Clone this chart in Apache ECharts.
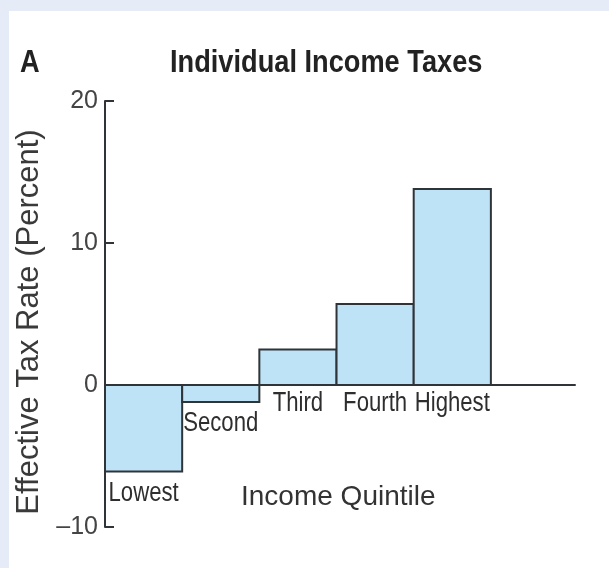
<!DOCTYPE html>
<html>
<head>
<meta charset="utf-8">
<script src="https://cdn.jsdelivr.net/npm/echarts@6/dist/echarts.min.js"></script>
<style>
  html, body { margin: 0; padding: 0; }
  #frame { position: relative; width: 609px; height: 568px; background: #e5ebf7; overflow: hidden; }
  #panel { position: absolute; left: 9px; top: 11px; right: 0; bottom: 0; background: #ffffff; }
  #chart { position: absolute; left: 0; top: 0; width: 609px; height: 568px; }
</style>
</head>
<body>
<div id="frame">
  <div id="panel"></div>
  <div id="chart"></div>
</div>
<script>
// Effective individual income tax rate by income quintile (percent)
const quintiles = ['Lowest', 'Second', 'Third', 'Fourth', 'Highest'];
const taxRates = [-6.1, -1.2, 2.5, 5.7, 13.8];
const yTicks = [-10, 0, 10, 20];

const barFill = '#bee3f7';
const barEdge = '#2f3438';
const sansFont = '"Liberation Sans", sans-serif';
// condensed look: regular face squeezed horizontally
const narrow = 0.82;
const titleNarrow = 0.85;

const chart = echarts.init(document.getElementById('chart'), null, { renderer: 'canvas' });

// Each quintile occupies one unit on the x scale; bars touch each other.
const barData = quintiles.map((name, i) => [i, taxRates[i], name]);

chart.setOption({
  backgroundColor: 'transparent',
  animation: false,
  grid: { left: 105, top: 101, width: 470, height: 426 },
  xAxis: {
    type: 'value',
    min: 0,
    max: 6.09,
    axisLine: { show: true, onZero: true, lineStyle: { color: barEdge, width: 2 } },
    axisTick: { show: false },
    axisLabel: { show: false },
    splitLine: { show: false }
  },
  yAxis: {
    type: 'value',
    min: yTicks[0],
    max: yTicks[yTicks.length - 1],
    interval: 10,
    name: 'Effective Tax Rate (Percent)',
    nameLocation: 'middle',
    nameRotate: 90,
    nameGap: 60,
    nameTextStyle: { fontFamily: sansFont, fontSize: 31, color: '#3a3a3a', padding: [0, 16, 0, 0] },
    axisLine: { show: true, lineStyle: { color: barEdge, width: 2 } },
    axisTick: { show: true, inside: true, length: 9, lineStyle: { color: barEdge, width: 2 } },
    axisLabel: {
      margin: 7,
      fontFamily: sansFont,
      fontSize: 25,
      color: '#444',
      formatter: v => (v < 0 ? '\u2013' + Math.abs(v) : String(v))
    },
    splitLine: { show: false }
  },
  graphic: [
    {
      type: 'text',
      x: 20, y: 63, scaleX: titleNarrow,
      style: { text: 'A', fontFamily: sansFont, fontWeight: 'bold', fontSize: 32, fill: '#222', verticalAlign: 'middle' }
    },
    {
      type: 'text',
      x: 170, y: 63, scaleX: titleNarrow,
      style: { text: 'Individual Income Taxes', fontFamily: sansFont, fontWeight: 'bold', fontSize: 32, fill: '#222', verticalAlign: 'middle' }
    },
    {
      type: 'text',
      x: 241, y: 497,
      style: { text: 'Income Quintile', fontFamily: sansFont, fontSize: 28, fill: '#333', verticalAlign: 'middle' }
    }
  ],
  series: [
    {
      type: 'custom',
      data: barData,
      encode: { x: 0, y: 1 },
      renderItem: function (params, api) {
        const i = api.value(0);
        const v = api.value(1);
        const p0 = api.coord([i, 0]);
        const p1 = api.coord([i + 1, v]);
        const x = p0[0], w = p1[0] - p0[0];
        const yTop = Math.min(p0[1], p1[1]);
        const h = Math.abs(p1[1] - p0[1]);
        // label sits below the bar end for negative rates, below the zero line otherwise
        const labelY = v < 0 ? p1[1] + 22 : p0[1] + 19;
        return {
          type: 'group',
          children: [
            {
              type: 'rect',
              shape: { x: x, y: yTop, width: w, height: h },
              style: { fill: barFill, stroke: barEdge, lineWidth: 2 }
            },
            {
              type: 'text',
              x: x + w / 2, y: labelY, scaleX: narrow,
              style: {
                text: quintiles[i],
                align: 'center', verticalAlign: 'middle',
                fontFamily: sansFont, fontSize: 27, fill: '#2e2e2e'
              }
            }
          ]
        };
      }
    }
  ]
});
</script>
</body>
</html>
